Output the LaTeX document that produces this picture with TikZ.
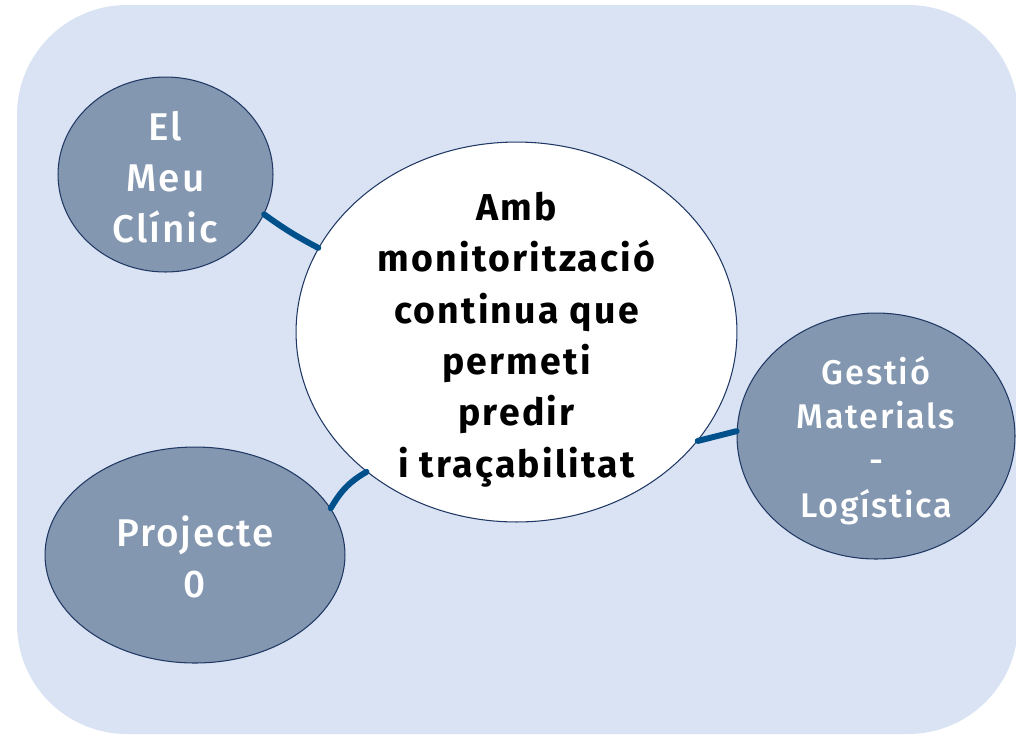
\documentclass[tikz,border=0pt]{standalone}
\usepackage{fontspec}
\setmainfont{Fira Sans}[LetterSpace=6]
\newfontfamily\medfont{Fira Sans Medium}[LetterSpace=5]
\usetikzlibrary{shapes.geometric}
\definecolor{paleblue}{RGB}{218,227,243}
\definecolor{slate}{RGB}{132,151,176}
\definecolor{navy}{RGB}{32,56,100}
\definecolor{linkblue}{RGB}{0,80,140}
\begin{document}
\begin{tikzpicture}[x=0.02cm,y=-0.02cm,
  bubble/.style={ellipse,draw=navy,line width=0.6pt,fill=slate,inner sep=0pt},
  hub/.style={bubble,fill=white},
  outertext/.style={text=white,align=center,font=\medfont\fontsize{22}{29}\selectfont},
  hubtext/.style={text=black,align=center,font=\fontsize{21.3}{29.2}\selectfont\bfseries},
  link/.style={draw=linkblue,line width=3.4pt,line cap=round}]
\useasboundingbox (0,0) rectangle (1016,735);
\fill[paleblue,rounded corners=2.2cm] (17,5) rectangle (1018,734);
%
\node (centre) [hub,minimum width=8.82cm,minimum height=7.6cm] at (516.5,332) {};
\node (centretext) [hubtext] at ([yshift=-0.15cm]centre.center) {Amb\\monitorització\\continua que\\permeti\\predir\\i traçabilitat};
%
\node (clinic) [bubble,minimum width=4.3cm,minimum height=3.9cm] at (165.5,174.5) {};
\node (clinictext) [outertext] at ([yshift=-0.06cm]clinic.center) {El\\Meu\\Clínic};
%
\node (projecte) [bubble,minimum width=6cm,minimum height=4.32cm] at (195,555) {};
\node (projectetext) [outertext] at ([yshift=-0.04cm]projecte.center) {Projecte\\0};
%
\node (gestio) [bubble,minimum width=5.56cm,minimum height=4.92cm] at (876,436) {};
\node (gestiotext) [outertext,font=\medfont\fontsize{19.5}{25.2}\selectfont] at ([yshift=-0.09cm]gestio.center) {Gestió\\Materials\\-\\Logística};
%
\draw[link] (clinic.-22) to[bend right=4] (centre.157);
\draw[link] (projecte.19) to[out=60,in=210] (centre.223);
\draw[link] (gestio.178) -- (centre.-31);
\end{tikzpicture}
\end{document}
